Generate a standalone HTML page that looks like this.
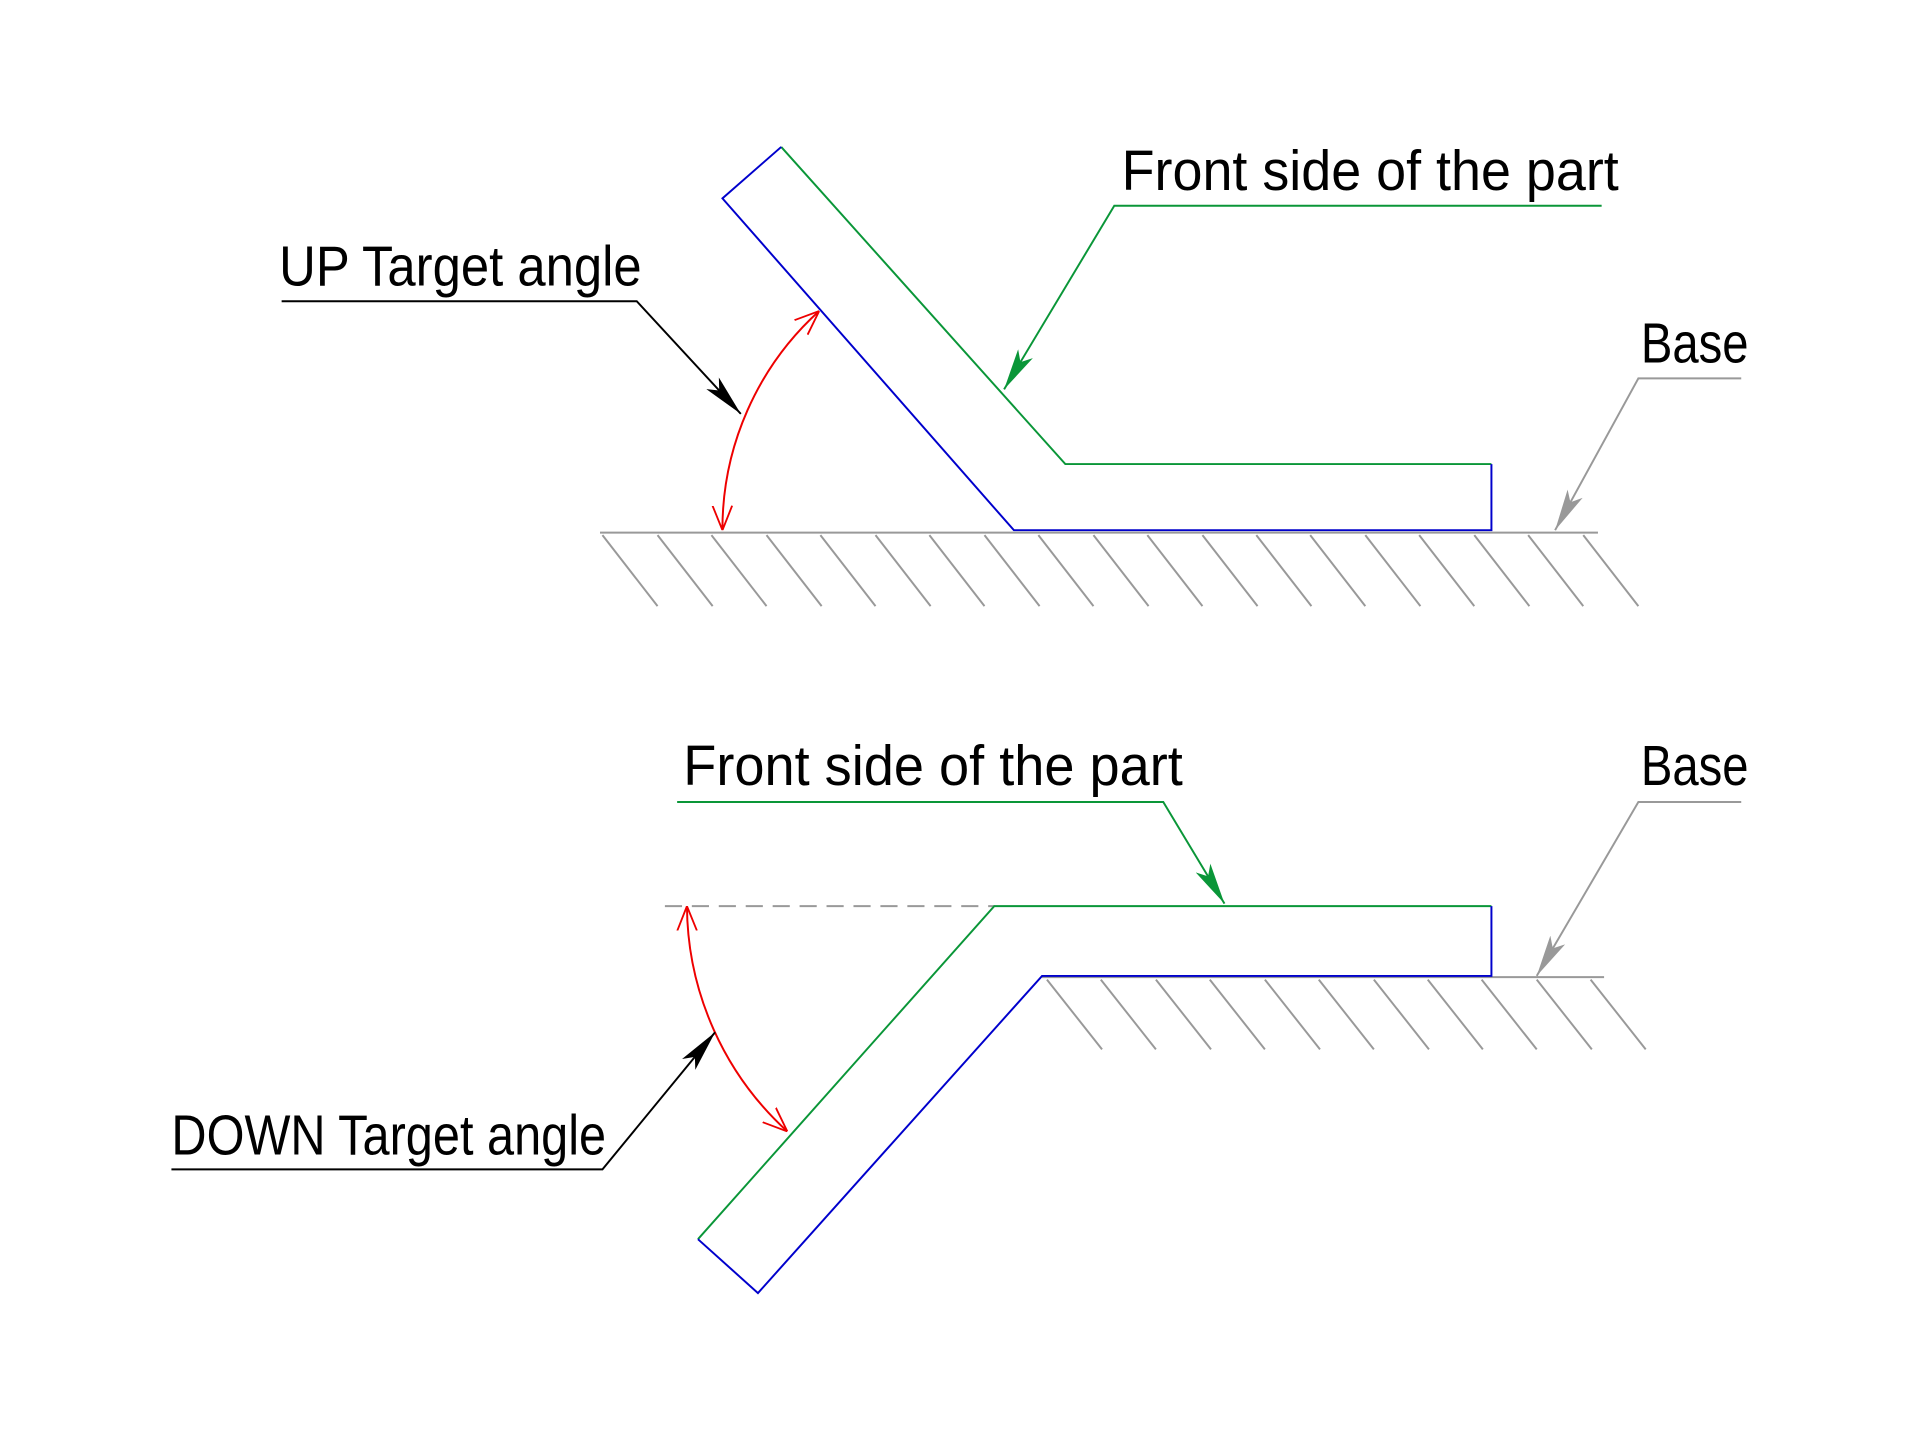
<!DOCTYPE html>
<html><head><meta charset="utf-8"><style>html,body{margin:0;padding:0;background:#fff;}svg{display:block}</style></head>
<body>
<svg width="1920" height="1440" viewBox="0 0 1568 1176" xmlns="http://www.w3.org/2000/svg">
<defs>
<marker id="ro" viewBox="0 0 20 20" refX="20" refY="10" markerWidth="20" markerHeight="20" markerUnits="userSpaceOnUse" orient="auto"><path d="M0,2 L20,10 L0,18" fill="none" stroke="#e00" stroke-width="1.5"/></marker>
<marker id="rs" viewBox="0 0 20 20" refX="0" refY="10" markerWidth="20" markerHeight="20" markerUnits="userSpaceOnUse" orient="auto"><path d="M20,2 L0,10 L20,18" fill="none" stroke="#e00" stroke-width="1.5"/></marker>
<marker id="bk" viewBox="0 0 34 14" refX="34" refY="7" markerWidth="34" markerHeight="14" markerUnits="userSpaceOnUse" orient="auto"><path d="M0,0 L34,7 L0,14 L8,7 Z" fill="#000"/></marker>
<marker id="gr" viewBox="0 0 34 14" refX="34" refY="7" markerWidth="34" markerHeight="14" markerUnits="userSpaceOnUse" orient="auto"><path d="M0,0 L34,7 L0,14 L8,7 Z" fill="#0a9638"/></marker>
<marker id="gy" viewBox="0 0 34 14" refX="34" refY="7" markerWidth="34" markerHeight="14" markerUnits="userSpaceOnUse" orient="auto"><path d="M0,0 L34,7 L0,14 L8,7 Z" fill="#999"/></marker>
</defs>
<g fill="none" stroke-width="1.6">
<line x1="490" y1="435" x2="1305" y2="435" stroke="#999"/>
<g stroke="#999">
<line x1="492" y1="437" x2="537" y2="495"/><line x1="537" y1="437" x2="582" y2="495"/><line x1="581" y1="437" x2="626" y2="495"/><line x1="626" y1="437" x2="671" y2="495"/><line x1="670" y1="437" x2="715" y2="495"/><line x1="715" y1="437" x2="760" y2="495"/><line x1="759" y1="437" x2="804" y2="495"/><line x1="804" y1="437" x2="849" y2="495"/><line x1="848" y1="437" x2="893" y2="495"/><line x1="893" y1="437" x2="938" y2="495"/><line x1="937" y1="437" x2="982" y2="495"/><line x1="982" y1="437" x2="1027" y2="495"/><line x1="1026" y1="437" x2="1071" y2="495"/><line x1="1070" y1="437" x2="1115" y2="495"/><line x1="1115" y1="437" x2="1160" y2="495"/><line x1="1159" y1="437" x2="1204" y2="495"/><line x1="1204" y1="437" x2="1249" y2="495"/><line x1="1248" y1="437" x2="1293" y2="495"/><line x1="1293" y1="437" x2="1338" y2="495"/>
</g>
<polyline points="638,120 870,379 1218,379" stroke="#0a9638"/>
<polyline points="638,120 590,162 828,433 1218,433 1218,379" stroke="#00c"/>
<path d="M590,433 A240,240 0 0 1 669,254" stroke="#e00" marker-start="url(#rs)" marker-end="url(#ro)"/>
<polyline points="230,246 520,246 605,338" stroke="#000" marker-end="url(#bk)"/>
<polyline points="1308,168 910,168 820,318" stroke="#0a9638" marker-end="url(#gr)"/>
<polyline points="1422,309 1338,309 1270,433" stroke="#999" marker-end="url(#gy)"/>
<line x1="543" y1="740" x2="812" y2="740" stroke="#999" stroke-dasharray="14,8"/>
<line x1="851" y1="798" x2="1310" y2="798" stroke="#999"/>
<g stroke="#999">
<line x1="855" y1="800" x2="900" y2="857"/><line x1="899" y1="800" x2="944" y2="857"/><line x1="944" y1="800" x2="989" y2="857"/><line x1="988" y1="800" x2="1033" y2="857"/><line x1="1033" y1="800" x2="1078" y2="857"/><line x1="1077" y1="800" x2="1122" y2="857"/><line x1="1122" y1="800" x2="1167" y2="857"/><line x1="1166" y1="800" x2="1211" y2="857"/><line x1="1210" y1="800" x2="1255" y2="857"/><line x1="1255" y1="800" x2="1300" y2="857"/><line x1="1299" y1="800" x2="1344" y2="857"/>
</g>
<polyline points="1218,740 812,740 570,1012" stroke="#0a9638"/>
<polyline points="570,1012 619,1056 851,797 1218,797 1218,740" stroke="#00c"/>
<path d="M561,740 A251,251 0 0 0 643,924" stroke="#e00" marker-start="url(#rs)" marker-end="url(#ro)"/>
<polyline points="140,955 492,955 584,843" stroke="#000" marker-end="url(#bk)"/>
<polyline points="553,655 950,655 1000,738" stroke="#0a9638" marker-end="url(#gr)"/>
<polyline points="1422,655 1338,655 1255,797" stroke="#999" marker-end="url(#gy)"/>
</g>
<g font-family="Liberation Sans, sans-serif" font-size="46" fill="#000">
<text x="228" y="233" textLength="296" lengthAdjust="spacingAndGlyphs">UP Target angle</text>
<text x="916" y="155" textLength="406" lengthAdjust="spacingAndGlyphs">Front side of the part</text>
<text x="1340" y="296" textLength="88" lengthAdjust="spacingAndGlyphs">Base</text>
<text x="558" y="641" textLength="408" lengthAdjust="spacingAndGlyphs">Front side of the part</text>
<text x="1340" y="641" textLength="88" lengthAdjust="spacingAndGlyphs">Base</text>
<text x="140" y="943" textLength="355" lengthAdjust="spacingAndGlyphs">DOWN Target angle</text>
</g>
</svg>
</body></html>
